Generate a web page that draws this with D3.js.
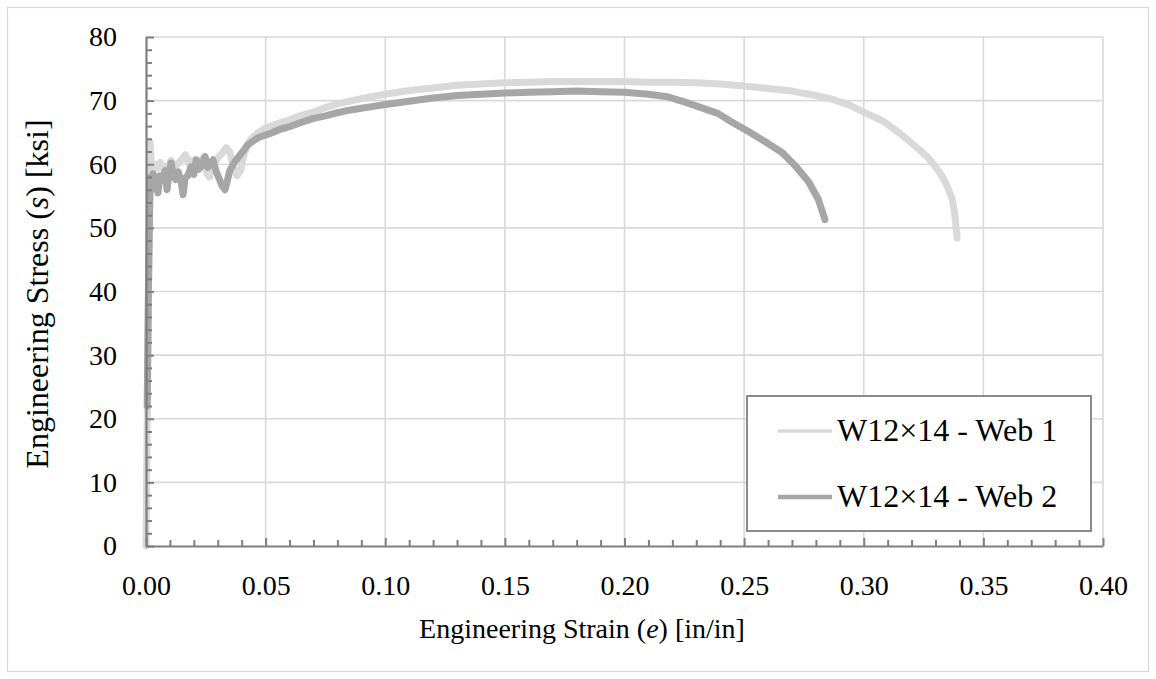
<!DOCTYPE html>
<html><head><meta charset="utf-8">
<script src="https://cdn.jsdelivr.net/npm/d3@7"></script>
<style>
body{margin:0;background:#fff;}
svg text{font-family:"Liberation Serif","Times New Roman",serif;fill:#000;}
</style></head>
<body><svg id="c" width="1156" height="679"></svg>
<script>
// ---- data ----
const seriesNames = ["W12×14 - Web 1", "W12×14 - Web 2"];
const xTickValues = [0, 0.05, 0.10, 0.15, 0.20, 0.25, 0.30, 0.35, 0.40];
const yTickValues = [0, 10, 20, 30, 40, 50, 60, 70, 80];

const web1Strain = [0.0000,0.0008,0.0013,0.0017,0.0022,0.0030,0.0040,0.0050,0.0060,0.0075,0.0090,0.0105,0.0120,0.0135,0.0150,0.0165,0.0180,0.0195,0.0210,0.0225,0.0240,0.0255,0.0265,0.0280,0.0300,0.0320,0.0335,0.0350,0.0365,0.0380,0.0395,0.0410,0.0425,0.0440,0.0470,0.0500,0.0550,0.0600,0.0650,0.0700,0.0750,0.0800,0.0900,0.1000,0.1100,0.1200,0.1300,0.1400,0.1500,0.1600,0.1700,0.1800,0.1900,0.2000,0.2100,0.2200,0.2300,0.2400,0.2500,0.2600,0.2700,0.2800,0.2870,0.2940,0.3000,0.3080,0.3150,0.3210,0.3265,0.3300,0.3330,0.3355,0.3370,0.3382,0.3390];
const web1Stress = [0,30,50,63.5,60.0,59.2,60.0,59.4,60.3,59.1,59.8,60.6,59.5,60.2,60.8,61.5,60.0,60.6,59.8,60.5,61.0,58.5,58.0,59.8,61.0,61.8,62.6,62.0,59.5,58.2,59.0,61.5,63.2,64.0,65.0,65.7,66.4,67.0,67.7,68.2,68.9,69.5,70.3,71.0,71.6,72.0,72.4,72.6,72.8,72.9,73.0,73.0,73.0,73.0,72.9,72.9,72.8,72.6,72.3,71.9,71.5,70.8,70.2,69.3,68.2,66.8,64.9,63.0,61.2,59.6,58.0,56.0,54.5,51.7,48.4];

const web2Strain = [0.0005,0.0010,0.0015,0.0018,0.0022,0.0030,0.0040,0.0050,0.0058,0.0068,0.0080,0.0088,0.0096,0.0105,0.0115,0.0125,0.0135,0.0148,0.0155,0.0163,0.0175,0.0188,0.0200,0.0210,0.0220,0.0232,0.0247,0.0258,0.0270,0.0280,0.0292,0.0305,0.0318,0.0330,0.0340,0.0350,0.0362,0.0375,0.0390,0.0405,0.0420,0.0435,0.0450,0.0470,0.0500,0.0530,0.0560,0.0600,0.0650,0.0700,0.0750,0.0800,0.0850,0.0900,0.0950,0.1000,0.1100,0.1200,0.1300,0.1400,0.1500,0.1600,0.1700,0.1800,0.1900,0.2000,0.2100,0.2180,0.2250,0.2320,0.2390,0.2450,0.2520,0.2590,0.2660,0.2720,0.2770,0.2810,0.2838];
const web2Stress = [22,40,52,58,56,58.5,57.2,55.5,58.2,57.5,59.0,56.0,58.5,60.2,58.0,57.6,58.8,57.0,55.2,57.8,58.2,59.6,58.4,60.7,59.2,59.8,61.2,59.5,60.2,60.7,59.0,57.8,56.6,56.0,57.4,59.0,59.8,60.6,61.3,62.0,62.8,63.3,63.7,64.2,64.6,65.0,65.5,65.9,66.6,67.2,67.6,68.1,68.5,68.8,69.1,69.4,69.9,70.4,70.8,71.0,71.2,71.3,71.4,71.5,71.4,71.3,71.0,70.6,69.8,68.9,68.0,66.6,65.1,63.5,61.8,59.5,57.2,54.5,51.3];

// ---- chart ----
const svg = d3.select("#c");
const FONT = 28;
const gridCol = "#d9d9d9", axisCol = "#7f7f7f";
const col1 = "#d9d9d9", col2 = "#a6a6a6";

svg.append("rect").attr("x",7.5).attr("y",7.5).attr("width",1141).attr("height",664)
  .attr("fill","none").attr("stroke","#d9d9d9").attr("stroke-width",1.2);

const x = d3.scaleLinear().domain([0,0.4]).range([146,1103]);
const y = d3.scaleLinear().domain([0,80]).range([546,37]);

// grid
const grid = svg.append("g");
grid.selectAll(".gx").data(xTickValues.slice(1)).join("line")
  .attr("x1",d=>x(d)).attr("x2",d=>x(d)).attr("y1",y(0)).attr("y2",y(80))
  .attr("stroke",gridCol).attr("stroke-width",1.6);
grid.selectAll(".gy").data(yTickValues.slice(1)).join("line")
  .attr("x1",x(0)).attr("x2",x(0.4)).attr("y1",d=>y(d)).attr("y2",d=>y(d))
  .attr("stroke",gridCol).attr("stroke-width",1.6);

// series
const line = d3.line().x(d=>x(d[0])).y(d=>y(d[1]));
const s1 = web1Strain.map((v,i)=>[v,web1Stress[i]]);
const s2 = web2Strain.map((v,i)=>[v,web2Stress[i]]);
svg.append("path").datum(s1).attr("d",line).attr("fill","none")
  .attr("stroke",col1).attr("stroke-width",7).attr("stroke-linejoin","round").attr("stroke-linecap","round");
svg.append("path").datum(s2).attr("d",line).attr("fill","none")
  .attr("stroke",col2).attr("stroke-width",7).attr("stroke-linejoin","round").attr("stroke-linecap","round");

// axes
const minorX = d3.range(0,41).map(i=>i/100).filter(v=>Math.round(v*100)%5!==0);
const minorY = d3.range(0,41).map(i=>i*2).filter(v=>v%10!==0);

function styleAxis(g){
  g.select(".domain").attr("stroke",axisCol).attr("stroke-width",2.2);
  g.selectAll(".tick line").attr("stroke",axisCol).attr("stroke-width",2);
  g.selectAll("text").style("font-size",FONT+"px").attr("fill","#000");
}
const gxMinor = svg.append("g").attr("transform",`translate(0,${y(0)})`)
  .call(d3.axisBottom(x).tickValues(minorX).tickSize(-6).tickSizeOuter(0).tickFormat(""));
gxMinor.select(".domain").remove();
gxMinor.selectAll(".tick line").attr("stroke",axisCol).attr("stroke-width",2);
const gyMinor = svg.append("g").attr("transform",`translate(${x(0)},0)`)
  .call(d3.axisLeft(y).tickValues(minorY).tickSize(-6).tickSizeOuter(0).tickFormat(""));
gyMinor.select(".domain").remove();
gyMinor.selectAll(".tick line").attr("stroke",axisCol).attr("stroke-width",2);

const gx = svg.append("g").attr("transform",`translate(0,${y(0)})`)
  .call(d3.axisBottom(x).tickValues(xTickValues).tickSize(-8).tickSizeOuter(0).tickPadding(29).tickFormat(d3.format(".2f")));
styleAxis(gx);
const gy = svg.append("g").attr("transform",`translate(${x(0)},0)`)
  .call(d3.axisLeft(y).tickValues(yTickValues).tickSize(-8).tickSizeOuter(0).tickPadding(29).tickFormat(d3.format("d")));
styleAxis(gy);

// axis titles
const xt = svg.append("text").attr("x",582).attr("y",638).attr("text-anchor","middle").style("font-size",FONT+"px");
xt.append("tspan").text("Engineering Strain (");
xt.append("tspan").style("font-style","italic").text("e");
xt.append("tspan").text(") [in/in]");

const yt = svg.append("text").attr("transform","translate(48,294) rotate(-90)").attr("text-anchor","middle").style("font-size","32px");
yt.append("tspan").text("Engineering Stress (");
yt.append("tspan").style("font-style","italic").text("s");
yt.append("tspan").text(") [ksi]");

// legend
const lg = svg.append("g");
lg.append("rect").attr("x",747).attr("y",396).attr("width",344).attr("height",135)
  .attr("fill","#fff").attr("stroke",axisCol).attr("stroke-width",1.8);
const legY = [431, 497];
const legCols = [col1, col2];
const legW = [3.5, 4.5];
seriesNames.forEach((n,i)=>{
  lg.append("line").attr("x1",778).attr("x2",832).attr("y1",legY[i]).attr("y2",legY[i])
    .attr("stroke",legCols[i]).attr("stroke-width",legW[i]);
  lg.append("text").attr("x",837).attr("y",legY[i]+10).style("font-size","32px").text(n);
});
</script></body></html>
